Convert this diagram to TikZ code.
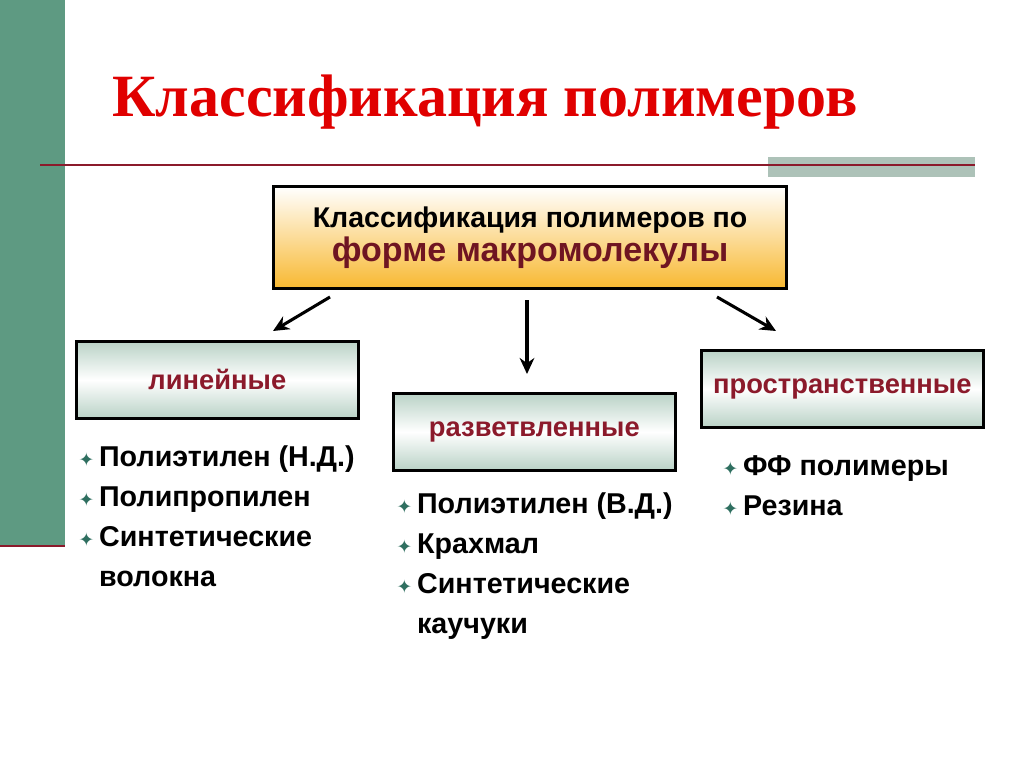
\documentclass[tikz,border=0pt]{standalone}
\usepackage{fontspec}
\setmainfont{Liberation Sans}
\newfontfamily\serifb{Liberation Serif}
\newfontfamily\djv{DejaVu Sans}
\usetikzlibrary{arrows.meta}
\definecolor{barg}{HTML}{5E9A82}
\definecolor{dred}{HTML}{8B1A2B}
\definecolor{tred}{HTML}{E00000}
\definecolor{boxg}{HTML}{B9D2C6}
\definecolor{starc}{HTML}{2F6F60}
\definecolor{orb}{HTML}{F8B830}
\tikzset{
 cat/.style={draw=black,line width=2pt,top color=boxg,bottom color=boxg,middle color=white,minimum width=282*0.75pt,minimum height=77*0.75pt,anchor=north west,font=\bfseries\fontsize{20.5}{24}\selectfont,text=dred},
 item/.style={anchor=north west,font=\bfseries\fontsize{21.5}{30}\selectfont,align=left},
 arr/.style={-{Stealth[length=12pt,width=11pt]},line width=2.3pt}
}
\newcommand{\st}{{\djv\color{starc}\fontsize{14}{14}\selectfont ✦}}
\begin{document}
\begin{tikzpicture}[x=0.75pt,y=-0.75pt]
\useasboundingbox[fill=white] (0,0) rectangle (1024,767);
\fill[barg] (0,0) rectangle (65,545);
\draw[dred,line width=1.5pt] (0,546) -- (65,546);
\fill[boxg!80!gray] (768,157) rectangle (975,177);
\draw[dred,line width=1.2pt] (40,165) -- (975,165);
\node (title) at (485,102) {\serifb\bfseries\fontsize{45}{48}\selectfont\color{tred}Классификация полимеров};
\node[draw=black,line width=2.4pt,top color=white,bottom color=orb,minimum width=513*0.75pt,minimum height=102*0.75pt,anchor=north west,align=center] (top) at (272,185) {{\bfseries\fontsize{21.4}{24}\selectfont Классификация полимеров по}\\[2pt]{\bfseries\fontsize{25.5}{30}\selectfont\color{dred!80!black}форме макромолекулы}};
\node[cat] (lin) at (75,340) {линейные};
\node[cat] (raz) at (392,392) {разветвленные};
\node[cat] (pro) at (700,349) {пространственные};
\coordinate (a1) at (330,297); \coordinate (b1) at (273,331);
\coordinate (a2) at (527,300); \coordinate (b2) at (527,374);
\coordinate (a3) at (717,297); \coordinate (b3) at (776,331);
\draw[arr] (a1) -- (b1);
\draw[arr] (a2) -- (b2);
\draw[arr] (a3) -- (b3);
\node[item] (l1) at (74,441) {\st\,Полиэтилен (Н.Д.)\\\st\,Полипропилен\\\st\,Синтетические\\\phantom{\st\,}волокна};
\node[item] (r1) at (392,488) {\st\,Полиэтилен (В.Д.)\\\st\,Крахмал\\\st\,Синтетические\\\phantom{\st\,}каучуки};
\node[item] (p1) at (718,451) {\st\,ФФ полимеры\\\st\,Резина};
\end{tikzpicture}
\end{document}
